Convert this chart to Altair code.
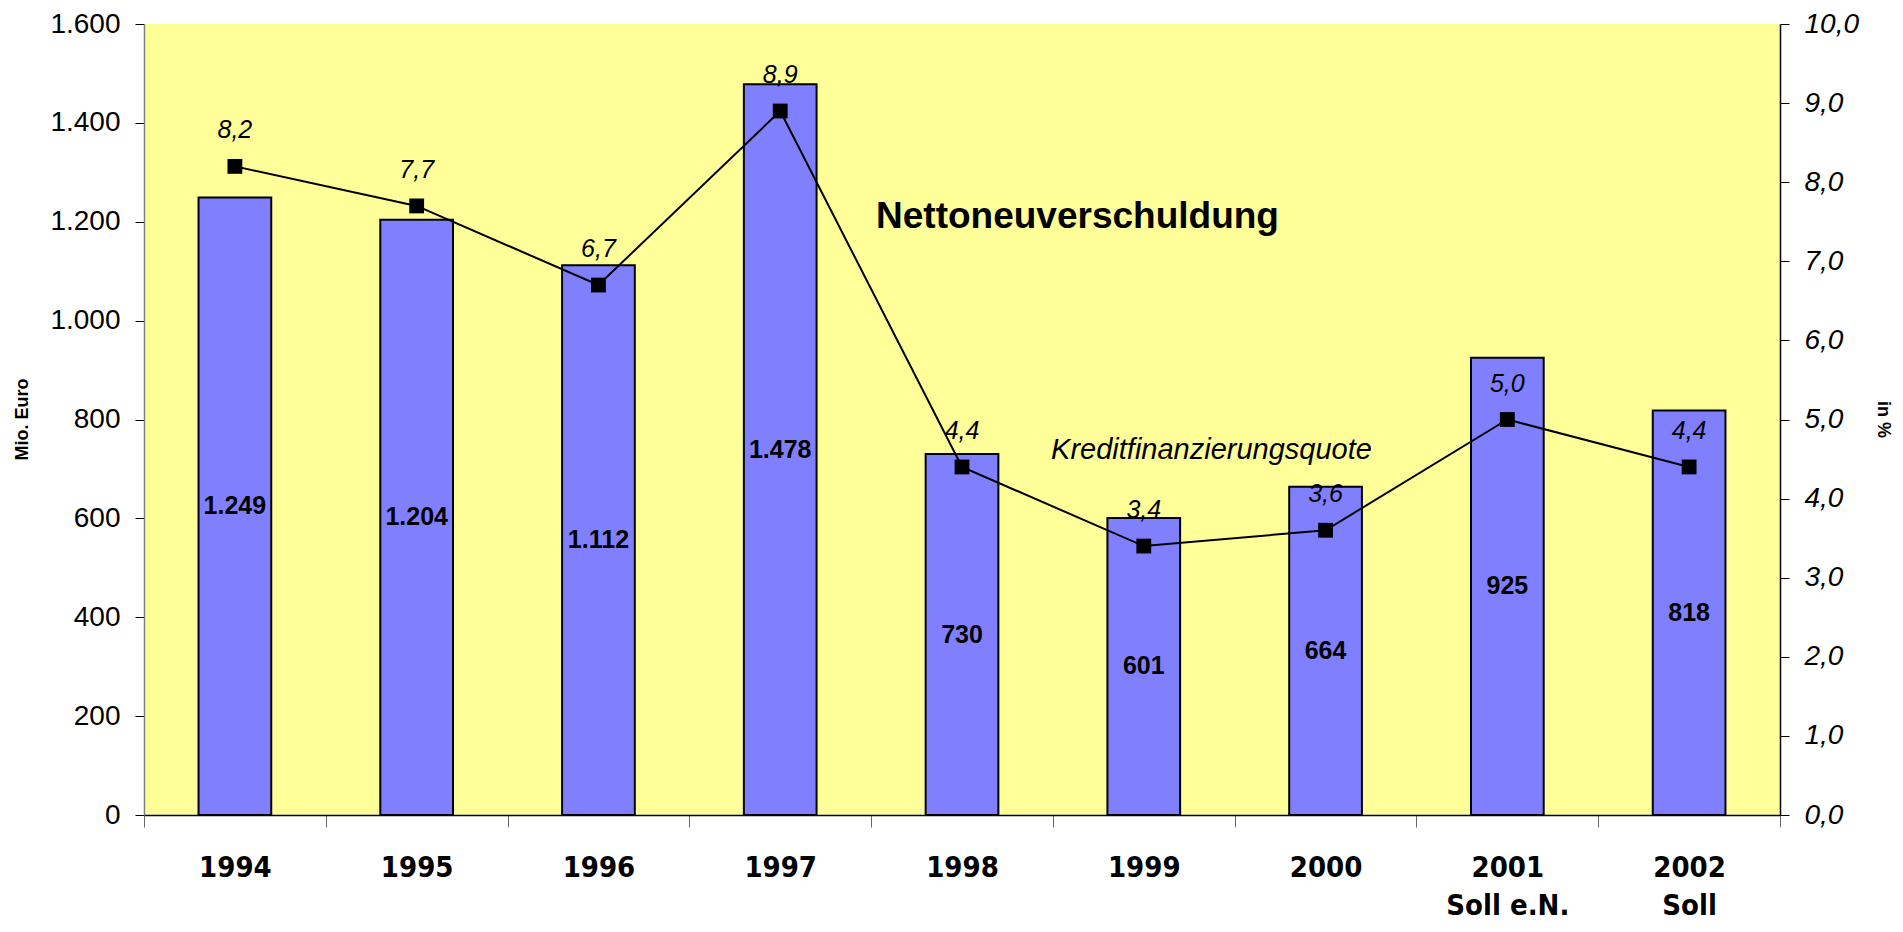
import altair as alt
import pandas as pd

# ---- data ----
categories = ["1994", "1995", "1996", "1997", "1998", "1999", "2000", "2001|Soll e.N.", "2002|Soll"]
netto = [1249, 1204, 1112, 1478, 730, 601, 664, 925, 818]
quote = [8.2, 7.7, 6.7, 8.9, 4.4, 3.4, 3.6, 5.0, 4.4]
left_ticks = [0, 200, 400, 600, 800, 1000, 1200, 1400, 1600]
right_ticks = [0, 1, 2, 3, 4, 5, 6, 7, 8, 9, 10]
title_bar = "Nettoneuverschuldung"
title_line = "Kreditfinanzierungsquote"

df = pd.DataFrame({"cat": categories, "netto": netto, "quote": quote})
df["netto_lbl"] = [f"{v:,}".replace(",", ".") for v in netto]
df["quote_lbl"] = [f"{v:.1f}".replace(".", ",") for v in quote]
df["half"] = df["netto"] / 2

FONT = "Liberation Sans, Arial, sans-serif"
NARROW = "Liberation Sans Narrow, Arial Narrow, DejaVu Sans Condensed, sans-serif"

W, H = 1636, 791

x_axis = alt.Axis(
    title=None,
    labelExpr="split(datum.label, '|')",
    labelFont=NARROW,
    labelFontSize=29,
    labelFontWeight="bold",
    labelLineHeight=38,
    labelColor="black",
    labelPadding=26,
    labelAngle=0,
    tickBand="extent",
    tickSize=12,
    tickColor="#666666",
    domainColor="black",
    domainWidth=1.5,
    grid=False,
)
x_enc = alt.X("cat:N", sort=categories, scale=alt.Scale(padding=0), axis=x_axis)

y_left = alt.Y(
    "netto:Q",
    scale=alt.Scale(domain=[0, 1600], nice=False),
    axis=alt.Axis(
        orient="left",
        values=left_ticks,
        labelExpr="replace(format(datum.value, ','), ',', '.')",
        labelFont=FONT,
        labelFontSize=28,
        labelColor="black",
        labelPadding=15,
        tickSize=9,
        tickColor="black",
        domainColor="#808080",
        domainWidth=1.5,
        grid=False,
        title="Mio. Euro",
        titleFont=FONT,
        titleFontSize=18,
        titleFontWeight="bold",
        titleColor="black",
        titleAngle=-90,
        titleX=-122,
        titleY=395,
        titleAlign="center",
        titleBaseline="middle",
    ),
)

y_right = alt.Y(
    "quote:Q",
    scale=alt.Scale(domain=[0, 10], nice=False),
    axis=alt.Axis(
        orient="right",
        values=right_ticks,
        labelExpr="replace(format(datum.value, '.1f'), '.', ',')",
        labelFont=FONT,
        labelFontSize=28,
        labelFontStyle="italic",
        labelColor="black",
        labelPadding=15,
        tickSize=9,
        tickColor="black",
        domainColor="black",
        domainWidth=1.5,
        grid=False,
        title="in %",
        titleFont=FONT,
        titleFontSize=18,
        titleFontWeight="bold",
        titleColor="black",
        titleAngle=90,
        titleX=102,
        titleY=395,
        titleAlign="center",
        titleBaseline="middle",
    ),
)

base = alt.Chart(df)

bars = base.mark_bar(
    width=alt.RelativeBandSize(0.4), color="#8080FF", stroke="black", strokeWidth=2
).encode(x=x_enc, y=y_left)

bar_labels = base.mark_text(
    font=FONT, fontSize=25, fontWeight="bold", color="black", baseline="middle"
).encode(x=x_enc, y=alt.Y("half:Q", scale=alt.Scale(domain=[0, 1600], nice=False)), text="netto_lbl:N")

ann_bar = alt.Chart(pd.DataFrame({"t": [title_bar]})).mark_text(
    font=FONT, fontSize=37, fontWeight="bold", color="black", align="center", baseline="alphabetic"
).encode(x=alt.value(933.5), y=alt.value(203.5), text="t:N")

left = alt.layer(bars, bar_labels, ann_bar)

line = base.mark_line(color="black", strokeWidth=2).encode(x=x_enc, y=y_right)
pts = base.mark_point(shape="square", filled=True, size=220, color="black", opacity=1).encode(x=x_enc, y=y_right)
line_labels = base.mark_text(
    font=FONT, fontSize=25, fontStyle="italic", color="black", baseline="middle", dy=-36
).encode(x=x_enc, y=y_right, text="quote_lbl:N")

ann_line = alt.Chart(pd.DataFrame({"t": [title_line]})).mark_text(
    font=FONT, fontSize=29, fontStyle="italic", color="black", align="center", baseline="alphabetic"
).encode(x=alt.value(1067.5), y=alt.value(434.5), text="t:N")

right = alt.layer(line, pts, line_labels, ann_line)

chart = (
    alt.layer(left, right)
    .resolve_scale(y="independent")
    .properties(
        width=W,
        height=H,
        padding={"left": 136, "top": 16, "right": 113, "bottom": 108},
        autosize=alt.AutoSizeParams(type="none"),
        background="white",
    )
    .configure_view(fill="#FFFF99", strokeWidth=0)
)

chart.save("out.html", embed_options={"renderer": "svg", "actions": False})
